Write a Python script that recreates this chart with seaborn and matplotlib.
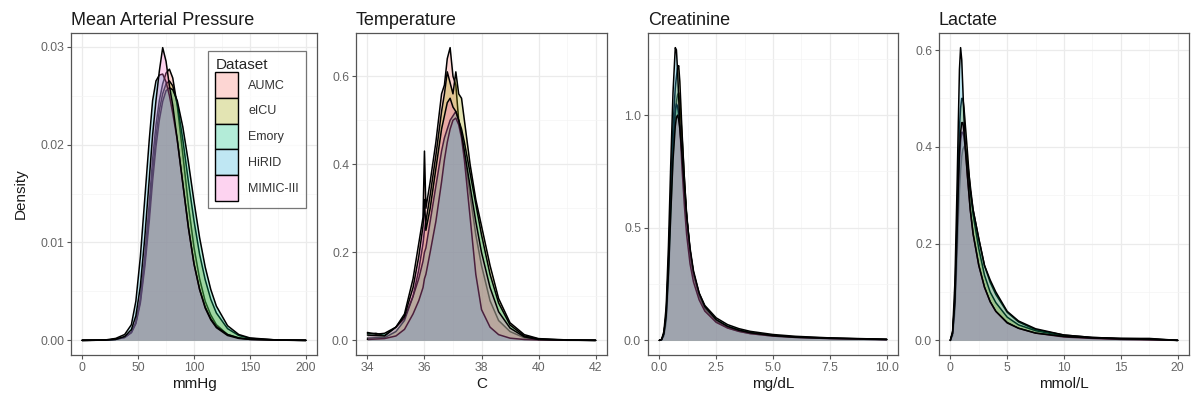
import numpy as np
import pandas as pd
import seaborn as sns
import matplotlib
matplotlib.use("Agg")
import matplotlib.pyplot as plt
from matplotlib.patches import Patch
from matplotlib.ticker import FixedLocator

# ---------------- data ----------------
datasets = ["AUMC", "eICU", "Emory", "HiRID", "MIMIC-III"]
colors = ["#F8766D", "#A3A500", "#00BF7D", "#28B0D7", "#FA6BCD"]

panel_titles = ["Mean Arterial Pressure", "Temperature", "Creatinine", "Lactate"]
panel_units = ["mmHg", "C", "mg/dL", "mmol/L"]

map_x = [0, 20, 30, 38, 44, 48, 52, 56, 60, 63, 66, 69, 72, 75, 78, 81, 85, 90, 95, 100, 105, 110, 115, 120, 130, 140, 150, 175, 200]
map_aumc = [0, 0.00002, 0.0001, 0.0003, 0.0008, 0.0018, 0.0042, 0.0085, 0.014, 0.0185, 0.022, 0.0245, 0.0262, 0.0273, 0.0277, 0.0268, 0.024, 0.019, 0.0138, 0.0095, 0.0063, 0.004, 0.0026, 0.0016, 0.0006, 0.00025, 0.0001, 0.00002, 0]
map_eicu = [0, 0.00002, 0.0001, 0.0003, 0.0008, 0.0018, 0.004, 0.008, 0.013, 0.0172, 0.0208, 0.0235, 0.0252, 0.0262, 0.0265, 0.026, 0.0242, 0.0205, 0.0162, 0.0122, 0.0088, 0.0062, 0.0042, 0.0028, 0.0012, 0.0005, 0.0002, 0.00003, 0]
map_emory = [0, 0.00002, 0.0001, 0.0003, 0.0008, 0.0017, 0.0038, 0.0075, 0.0122, 0.0163, 0.0198, 0.0225, 0.0244, 0.0255, 0.0258, 0.0256, 0.0245, 0.0218, 0.0182, 0.0142, 0.0105, 0.0075, 0.0052, 0.0035, 0.0015, 0.0006, 0.00025, 0.00003, 0]
map_hirid = [0, 0.00003, 0.0002, 0.0006, 0.0016, 0.004, 0.0085, 0.0145, 0.0205, 0.0245, 0.0265, 0.0271, 0.0272, 0.0264, 0.025, 0.0232, 0.0205, 0.016, 0.0115, 0.0078, 0.0052, 0.0034, 0.0022, 0.0014, 0.0006, 0.00025, 0.0001, 0.00002, 0]
map_mimic = [0, 0.00002, 0.0001, 0.0004, 0.0011, 0.0025, 0.0055, 0.0105, 0.0165, 0.021, 0.0245, 0.0275, 0.0299, 0.0285, 0.026, 0.024, 0.0205, 0.016, 0.0115, 0.0078, 0.0052, 0.0033, 0.0021, 0.0013, 0.0005, 0.0002, 0.0001, 0.00002, 0]

temp_x = [34, 34.3, 34.6, 35, 35.3, 35.6, 35.8, 35.95, 36.0, 36.05, 36.2, 36.4, 36.6, 36.7, 36.8, 36.9, 37.0, 37.1, 37.2, 37.3, 37.4, 37.6, 37.8, 38.0, 38.3, 38.6, 39.0, 39.5, 40, 41, 42]
temp_aumc = [0.015, 0.016, 0.011, 0.03, 0.06, 0.14, 0.22, 0.28, 0.43, 0.30, 0.36, 0.45, 0.56, 0.58, 0.64, 0.665, 0.60, 0.58, 0.50, 0.47, 0.42, 0.33, 0.24, 0.17, 0.09, 0.045, 0.02, 0.006, 0.002, 0.0005, 0]
temp_eicu = [0.005, 0.006, 0.006, 0.02, 0.045, 0.10, 0.16, 0.22, 0.25, 0.27, 0.33, 0.42, 0.52, 0.56, 0.61, 0.585, 0.56, 0.61, 0.56, 0.55, 0.50, 0.40, 0.32, 0.26, 0.17, 0.095, 0.04, 0.013, 0.004, 0.001, 0]
temp_emory = [0.018, 0.014, 0.016, 0.03, 0.05, 0.10, 0.14, 0.18, 0.20, 0.21, 0.27, 0.35, 0.43, 0.46, 0.48, 0.50, 0.51, 0.52, 0.50, 0.48, 0.45, 0.38, 0.31, 0.24, 0.15, 0.085, 0.035, 0.01, 0.003, 0.0005, 0]
temp_hirid = [0.002, 0.003, 0.004, 0.01, 0.025, 0.06, 0.09, 0.12, 0.14, 0.15, 0.20, 0.27, 0.36, 0.41, 0.45, 0.48, 0.50, 0.505, 0.49, 0.46, 0.41, 0.28, 0.15, 0.07, 0.03, 0.013, 0.005, 0.002, 0.001, 0.0002, 0]
temp_mimic = [0.012, 0.011, 0.010, 0.03, 0.055, 0.12, 0.19, 0.26, 0.32, 0.25, 0.30, 0.39, 0.48, 0.51, 0.54, 0.55, 0.53, 0.52, 0.50, 0.47, 0.43, 0.35, 0.27, 0.20, 0.12, 0.065, 0.028, 0.008, 0.002, 0.0005, 0]

crea_x = [0, 0.1, 0.2, 0.3, 0.4, 0.5, 0.6, 0.7, 0.75, 0.8, 0.85, 0.9, 1.0, 1.1, 1.2, 1.35, 1.5, 1.75, 2.0, 2.5, 3.0, 3.5, 4.0, 5.0, 6.0, 7.5, 10.0]
crea_aumc = [0, 0.002, 0.02, 0.08, 0.26, 0.55, 0.82, 1.00, 1.06, 1.09, 1.10, 1.06, 0.90, 0.72, 0.56, 0.40, 0.30, 0.20, 0.14, 0.085, 0.055, 0.04, 0.03, 0.019, 0.013, 0.008, 0.003]
crea_eicu = [0, 0.003, 0.03, 0.11, 0.33, 0.65, 0.95, 1.12, 1.17, 1.21, 1.22, 1.15, 0.92, 0.72, 0.55, 0.38, 0.29, 0.20, 0.145, 0.09, 0.062, 0.046, 0.035, 0.022, 0.015, 0.010, 0.004]
crea_emory = [0, 0.003, 0.03, 0.12, 0.34, 0.63, 0.88, 1.02, 1.05, 1.04, 1.00, 0.95, 0.82, 0.68, 0.55, 0.40, 0.30, 0.21, 0.155, 0.10, 0.07, 0.052, 0.04, 0.026, 0.018, 0.011, 0.005]
crea_hirid = [0, 0.005, 0.04, 0.15, 0.42, 0.78, 1.10, 1.30, 1.29, 1.20, 1.08, 0.96, 0.76, 0.60, 0.47, 0.34, 0.26, 0.18, 0.13, 0.08, 0.055, 0.04, 0.03, 0.019, 0.013, 0.008, 0.003]
crea_mimic = [0, 0.003, 0.03, 0.11, 0.30, 0.56, 0.80, 0.95, 0.99, 1.00, 0.98, 0.94, 0.82, 0.68, 0.55, 0.41, 0.31, 0.21, 0.15, 0.092, 0.062, 0.045, 0.034, 0.021, 0.014, 0.009, 0.004]

lact_x = [0, 0.2, 0.4, 0.6, 0.7, 0.8, 0.9, 1.0, 1.1, 1.2, 1.3, 1.5, 1.75, 2.0, 2.5, 3.0, 3.5, 4.0, 5.0, 6.0, 7.5, 10.0, 12.5, 15.0, 17.5, 20.0]
lact_aumc = [0, 0.01, 0.06, 0.18, 0.25, 0.31, 0.35, 0.38, 0.395, 0.40, 0.40, 0.37, 0.32, 0.27, 0.21, 0.155, 0.12, 0.095, 0.058, 0.038, 0.022, 0.011, 0.006, 0.004, 0.004, 0]
lact_eicu = [0, 0.015, 0.09, 0.26, 0.36, 0.44, 0.48, 0.50, 0.50, 0.48, 0.45, 0.39, 0.31, 0.26, 0.19, 0.135, 0.10, 0.078, 0.048, 0.032, 0.02, 0.009, 0.005, 0.003, 0.002, 0]
lact_emory = [0, 0.015, 0.08, 0.23, 0.31, 0.37, 0.41, 0.43, 0.43, 0.42, 0.40, 0.36, 0.31, 0.27, 0.21, 0.155, 0.125, 0.10, 0.06, 0.04, 0.024, 0.011, 0.006, 0.004, 0.003, 0]
lact_hirid = [0, 0.02, 0.12, 0.33, 0.45, 0.56, 0.605, 0.58, 0.52, 0.46, 0.41, 0.34, 0.27, 0.22, 0.155, 0.11, 0.08, 0.06, 0.037, 0.025, 0.015, 0.007, 0.004, 0.002, 0.001, 0]
lact_mimic = [0, 0.015, 0.08, 0.23, 0.32, 0.39, 0.43, 0.45, 0.45, 0.43, 0.40, 0.34, 0.27, 0.22, 0.155, 0.11, 0.08, 0.06, 0.036, 0.025, 0.015, 0.008, 0.005, 0.003, 0.002, 0]

x_ticks = [[0, 50, 100, 150, 200], [34, 36, 38, 40, 42], [0, 2.5, 5, 7.5, 10], [0, 5, 10, 15, 20]]
x_ticklabels = [["0", "50", "100", "150", "200"], ["34", "36", "38", "40", "42"],
                ["0.0", "2.5", "5.0", "7.5", "10.0"], ["0", "5", "10", "15", "20"]]
y_ticks = [[0, 0.01, 0.02, 0.03], [0, 0.2, 0.4, 0.6], [0, 0.5, 1.0], [0, 0.2, 0.4, 0.6]]
y_ticklabels = [["0.00", "0.01", "0.02", "0.03"], ["0.0", "0.2", "0.4", "0.6"],
                ["0.0", "0.5", "1.0"], ["0.0", "0.2", "0.4", "0.6"]]

panels = [
    (map_x, [map_aumc, map_eicu, map_emory, map_hirid, map_mimic]),
    (temp_x, [temp_aumc, temp_eicu, temp_emory, temp_hirid, temp_mimic]),
    (crea_x, [crea_aumc, crea_eicu, crea_emory, crea_hirid, crea_mimic]),
    (lact_x, [lact_aumc, lact_eicu, lact_emory, lact_hirid, lact_mimic]),
]

# ---------------- style ----------------
sns.set_theme(style="white")
plt.rcParams["font.family"] = ["Liberation Sans", "DejaVu Sans"]

W, H = 1192, 401
fig = plt.figure(figsize=(W / 100, H / 100), dpi=100)

axes_px = [(71, 317), (356, 607), (648, 898), (939, 1189)]
top_px, bot_px = 33, 355

grid_major = "#EBEBEB"
grid_minor = "#F4F4F4"
tick_col = "#666666"
ALPHA = 0.3

for i, ((xs, ys_list), (l, r)) in enumerate(zip(panels, axes_px)):
    ax = fig.add_axes([l / W, 1 - bot_px / H, (r - l) / W, (bot_px - top_px) / H])
    ax.set_facecolor("white")

    xmin, xmax = min(xs), max(xs)
    ymax = max(max(v) for v in ys_list)
    xr = xmax - xmin
    ax.set_xlim(xmin - 0.05 * xr, xmax + 0.05 * xr)
    ax.set_ylim(-0.05 * ymax, ymax * 1.05)

    xt = x_ticks[i]
    yt = y_ticks[i]
    xminor = [(a + b) / 2 for a, b in zip(xt[:-1], xt[1:])]
    ystep = yt[1] - yt[0]
    yminor = [v + ystep / 2 for v in yt]
    ax.set_xticks(xt)
    ax.set_xticklabels(x_ticklabels[i])
    ax.set_yticks(yt)
    ax.set_yticklabels(y_ticklabels[i])
    ax.xaxis.set_minor_locator(FixedLocator(xminor))
    ax.yaxis.set_minor_locator(FixedLocator(yminor))
    ax.grid(True, which="major", color=grid_major, linewidth=0.9, zorder=0)
    ax.grid(True, which="minor", color=grid_minor, linewidth=0.5, zorder=0)
    ax.set_axisbelow(True)

    for j, (yv, c) in enumerate(zip(ys_list, colors)):
        ax.fill_between(xs, 0, yv, color=c, alpha=ALPHA, linewidth=0, zorder=2 + 2 * j)
        df = pd.DataFrame({"x": xs, "y": yv})
        sns.lineplot(data=df, x="x", y="y", ax=ax, color="black", linewidth=1.1,
                     zorder=3 + 2 * j, sort=False, estimator=None)

    for sp in ax.spines.values():
        sp.set_color("#555555")
        sp.set_linewidth(0.9)
    ax.tick_params(axis="both", which="major", direction="out", length=3, width=0.8,
                   color="#555555", labelcolor=tick_col, labelsize=8.8, pad=2,
                   bottom=True, left=True)
    ax.tick_params(axis="both", which="minor", length=0)

    ax.set_xlabel(panel_units[i], fontsize=11, color="#1A1A1A", labelpad=2)
    ax.set_ylabel("Density" if i == 0 else "", fontsize=11, color="#1A1A1A", labelpad=9)
    ax.set_title(panel_titles[i], loc="left", fontsize=13, color="#1A1A1A", pad=6)

    if i == 0:
        handles = []
        for c in colors:
            rgb = np.array(matplotlib.colors.to_rgb(c))
            handles.append(Patch(facecolor=tuple((1 - ALPHA) + ALPHA * rgb),
                                 edgecolor="black", linewidth=1.0))
        leg = ax.legend(handles, datasets, title="Dataset", loc="upper right",
                        bbox_to_anchor=(0.955, 0.944), fontsize=9, title_fontsize=11,
                        frameon=True, fancybox=False, edgecolor="#555555",
                        handlelength=1.85, handleheight=2.8, labelspacing=0.0,
                        handletextpad=0.8, borderpad=0.55, borderaxespad=0)
        leg._legend_box.align = "left"
        leg.get_frame().set_linewidth(0.9)
        for t in leg.get_texts():
            t.set_color("#333333")
        leg.set_zorder(20)

fig.savefig("out.png", dpi=100)
